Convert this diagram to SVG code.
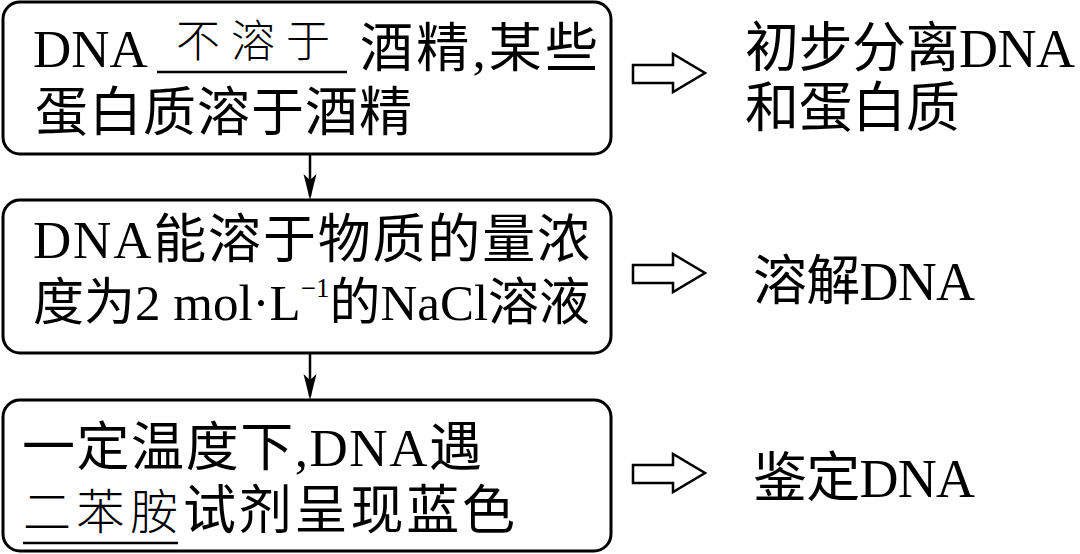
<svg xmlns="http://www.w3.org/2000/svg" width="1080" height="554" viewBox="0 0 1080 554">
<style>
.box{fill:#fff;stroke:#000;stroke-width:3}
.t{font-family:"Liberation Serif","Noto Sans CJK SC",serif;font-size:53px;fill:#000}
.r{font-family:"Liberation Serif","Noto Sans CJK SC",serif;font-size:54px;fill:#000}
.k{font-family:"Noto Sans CJK SC",sans-serif;font-weight:300;fill:#000}
.ul{stroke:#000;stroke-width:2.5}
.conn{stroke:#000;stroke-width:2.5;fill:none}
.head{fill:#000;stroke:none}
.hollow{fill:#fff;stroke:#000;stroke-width:2.5;stroke-linejoin:miter}
</style>
<rect width="1080" height="554" fill="#fff"/>

<g id="connectors">
<line class="conn" x1="310" y1="155" x2="310" y2="196"/>
<path class="head" d="M310,200 L303.5,174 L310,180 L316.5,174 Z"/>
<line class="conn" x1="310" y1="354" x2="310" y2="396"/>
<path class="head" d="M310,400 L303.5,374 L310,380 L316.5,374 Z"/>
<path class="hollow" d="M633,65 L673,65 L673,54 L705,73 L673,92 L673,83 L633,83 Z"/>
<path class="hollow" d="M633,265 L673,265 L673,254 L705,273 L673,292 L673,283 L633,283 Z"/>
<path class="hollow" d="M633,465 L673,465 L673,454 L705,473 L673,492 L673,483 L633,483 Z"/>
</g>

<g id="node1">
<rect class="box" x="3" y="2" width="608" height="152" rx="17"/>
<text class="t" x="33" y="67">DNA</text>
<line class="ul" x1="157" y1="72" x2="347" y2="72"/>
<text class="k" x="176" y="57" font-size="44" textLength="154">不溶于</text>
<text class="t" x="360" y="67" textLength="238">酒精,某些</text>
<text class="t" x="35" y="131" textLength="377">蛋白质溶于酒精</text>
</g>

<g id="node2">
<rect class="box" x="3" y="200" width="608" height="153" rx="17"/>
<text class="t" x="33" y="258" textLength="557">DNA能溶于物质的量浓</text>
<text class="t" x="33" y="320" style="font-size:51px">度为2 mol·L<tspan style="font-size:27px" dy="-23">−1</tspan><tspan dy="23">的NaCl溶液</tspan></text>
</g>

<g id="node3">
<rect class="box" x="3" y="400" width="608" height="151" rx="17"/>
<text class="t" x="22" y="466" textLength="460">一定温度下,DNA遇</text>
<text class="k" x="23" y="529" font-size="48" textLength="155">二苯胺</text>
<text class="t" x="183" y="529" textLength="332">试剂呈现蓝色</text>
<line class="ul" x1="23" y1="543" x2="178" y2="543"/>
</g>

<g id="result1">
<text class="r" x="745" y="67" textLength="330">初步分离DNA</text>
<text class="r" x="745" y="127" textLength="215">和蛋白质</text>
</g>
<g id="result2">
<text class="r" x="753" y="300" textLength="222">溶解DNA</text>
</g>
<g id="result3">
<text class="r" x="753" y="497" textLength="222">鉴定DNA</text>
</g>
</svg>
